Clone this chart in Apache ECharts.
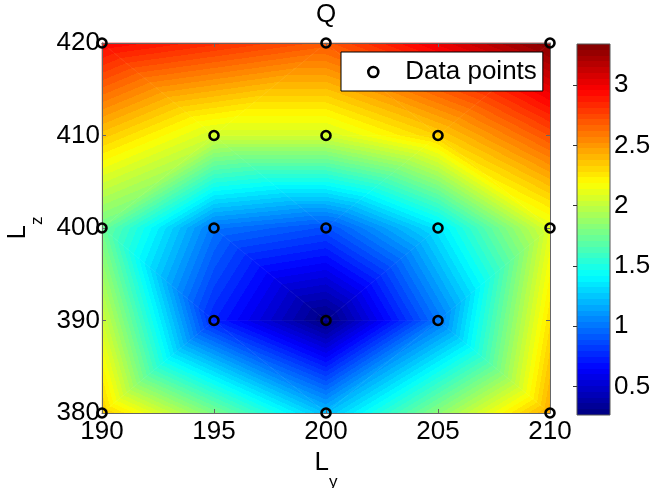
<!DOCTYPE html>
<html>
<head>
<meta charset="utf-8">
<script src="https://cdn.jsdelivr.net/npm/echarts@6/dist/echarts.min.js"></script>
<style>
  html, body { margin: 0; padding: 0; background: #fff; }
  #main { width: 663px; height: 488px; }
</style>
</head>
<body>
<div id="main"></div>
<script>
// measured points: Ly, Lz and the Q value read at each one
var ly = [190, 200, 210, 195, 200, 205, 190, 195, 200, 205, 210, 195, 200, 205, 190, 200, 210];
var lz = [420, 420, 420, 410, 410, 410, 400, 400, 400, 400, 400, 390, 390, 390, 380, 380, 380];
var q  = [2.96, 2.7, 3.34, 2.05, 2.05, 2.33, 1.75, 1.0, 0.88, 1.35, 2.1, 0.75, 0.265, 1.0, 2.35, 1.22, 2.45];
// triangles of the linear interpolation (indices into the arrays above)
var tris = [
  [0, 1, 3], [0, 3, 6], [3, 6, 7], [1, 3, 4], [1, 4, 5], [1, 2, 5], [2, 5, 10], [5, 9, 10],
  [3, 4, 8], [3, 7, 8], [4, 5, 8], [5, 8, 9],
  [6, 7, 11], [6, 11, 14], [7, 11, 12], [7, 8, 12], [8, 9, 12], [9, 12, 13],
  [9, 10, 13], [10, 13, 16], [11, 14, 15], [11, 12, 15], [12, 13, 15], [13, 15, 16]
];
var lyRange = [190, 210];
var lzRange = [380, 420];
var barTicks = [0.5, 1, 1.5, 2, 2.5, 3];

var FONT = '"Liberation Sans", Arial, Helvetica, sans-serif';
var qMin = Math.min.apply(null, q);
var qMax = Math.max.apply(null, q);

// jet colormap, 64 flat steps like matlab
function clamp(v) { return Math.max(0, Math.min(1, v)); }
function jet(f) {
  var r = clamp(1.5 - Math.abs(4 * f - 3));
  var g = clamp(1.5 - Math.abs(4 * f - 2));
  var b = clamp(1.5 - Math.abs(4 * f - 1));
  return 'rgb(' + Math.round(r * 255) + ',' + Math.round(g * 255) + ',' + Math.round(b * 255) + ')';
}
var stops = [];
for (var k = 0; k < 64; k++) {
  var c = jet((k + 0.5) / 64);
  stops.push({ offset: k / 64, color: c });
  stops.push({ offset: (k + 1) / 64, color: c });
}

function renderTri(params, api) {
  var idx = [api.value(0), api.value(1), api.value(2)];
  var pts = idx.map(function (i) { return api.coord([ly[i], lz[i]]); });
  var v = idx.map(function (i) { return q[i]; });
  var d2x = pts[1][0] - pts[0][0], d2y = pts[1][1] - pts[0][1];
  var d3x = pts[2][0] - pts[0][0], d3y = pts[2][1] - pts[0][1];
  var dv2 = v[1] - v[0], dv3 = v[2] - v[0];
  var det = d2x * d3y - d2y * d3x;
  var gx = (dv2 * d3y - d2y * dv3) / det;
  var gy = (d2x * dv3 - dv2 * d3x) / det;
  var gg = gx * gx + gy * gy;
  var fill;
  if (gg < 1e-12) {
    fill = jet((v[0] - qMin) / (qMax - qMin));
  } else {
    var s0 = (qMin - v[0]) / gg, s1 = (qMax - v[0]) / gg;
    fill = new echarts.graphic.LinearGradient(
      pts[0][0] + s0 * gx, pts[0][1] + s0 * gy,
      pts[0][0] + s1 * gx, pts[0][1] + s1 * gy, stops, true);
  }
  return {
    type: 'polygon',
    shape: { points: pts },
    style: { fill: fill, stroke: fill, lineWidth: 0.6 }
  };
}

function renderBar(params, api) {
  var p0 = api.coord([0, qMin]);
  var p1 = api.coord([1, qMax]);
  return {
    type: 'rect',
    shape: { x: p0[0], y: p1[1], width: p1[0] - p0[0], height: p0[1] - p1[1] },
    style: {
      fill: new echarts.graphic.LinearGradient(0, p0[1], 0, p1[1], stops, true),
      stroke: '#555', lineWidth: 1
    }
  };
}

var frame = { show: true, onZero: false, lineStyle: { color: '#666', width: 1 } };
var tick = { show: true, inside: true, length: 4, lineStyle: { color: '#666' } };
var label = { fontFamily: FONT, fontSize: 26, color: '#000' };
var subRich = {
  a: { fontFamily: FONT, fontSize: 26, color: '#000', lineHeight: 30, verticalAlign: 'top' },
  b: { fontFamily: FONT, fontSize: 17, color: '#000', lineHeight: 17, verticalAlign: 'top', padding: [24, 0, 0, 0] }
};

var chart = echarts.init(document.getElementById('main'));
chart.setOption({
  animation: false,
  title: {
    text: 'Q', left: 326, top: 2, textAlign: 'center', padding: 0,
    textStyle: { fontFamily: FONT, fontSize: 26, fontWeight: 'normal', color: '#000' }
  },
  legend: {
    left: 341, top: 52,
    data: ['Data points'],
    backgroundColor: '#fff', borderColor: '#000', borderWidth: 1, borderRadius: 0,
    padding: [7, 6, 6, 26],
    itemWidth: 54, itemHeight: 10,
    itemStyle: { color: 'transparent', borderColor: '#000', borderWidth: 2.6 },
    textStyle: { fontFamily: FONT, fontSize: 26, color: '#000' }
  },
  grid: [
    { left: 102, top: 43, width: 448, height: 370, outerBoundsMode: 'none', containLabel: false },
    { left: 577, top: 44, width: 33, height: 371, outerBoundsMode: 'none', containLabel: false }
  ],
  xAxis: [
    {
      gridIndex: 0, type: 'value', min: lyRange[0], max: lyRange[1], interval: 5,
      position: 'bottom', z: 3, axisLine: frame, axisTick: tick,
      axisLabel: Object.assign({ margin: 6 }, label), splitLine: { show: false },
      name: '{a|L}{b|y}', nameLocation: 'middle', nameGap: 37,
      nameTextStyle: { rich: subRich }
    },
    {
      gridIndex: 0, type: 'value', min: lyRange[0], max: lyRange[1], interval: 5,
      position: 'top', z: 3, axisLine: frame, axisTick: tick,
      axisLabel: { show: false }, splitLine: { show: false }
    },
    { gridIndex: 1, type: 'value', min: 0, max: 1, show: false }
  ],
  yAxis: [
    {
      gridIndex: 0, type: 'value', min: lzRange[0], max: lzRange[1], interval: 10,
      position: 'left', z: 3, axisLine: frame, axisTick: tick,
      axisLabel: Object.assign({ margin: 2 }, label), splitLine: { show: false },
      name: '{a|L}{b|z}', nameLocation: 'middle', nameRotate: 90, nameGap: 50,
      nameTextStyle: { rich: subRich }
    },
    {
      gridIndex: 0, type: 'value', min: lzRange[0], max: lzRange[1], interval: 10,
      position: 'right', z: 3, axisLine: frame, axisTick: tick,
      axisLabel: { show: false }, splitLine: { show: false }
    },
    {
      gridIndex: 1, type: 'value', min: qMin, max: qMax, position: 'right', z: 3,
      axisLine: { show: false },
      axisTick: { show: true, inside: true, length: 4, lineStyle: { color: '#333' }, customValues: barTicks },
      axisLabel: Object.assign({ margin: 4, customValues: barTicks }, label),
      splitLine: { show: false }
    }
  ],
  series: [
    {
      type: 'custom', name: 'field', xAxisIndex: 0, yAxisIndex: 0, z: 1,
      renderItem: renderTri, data: tris, silent: true
    },
    {
      type: 'custom', name: 'colorbar', xAxisIndex: 2, yAxisIndex: 2, z: 1,
      renderItem: renderBar, data: [[0.5, (qMin + qMax) / 2]], silent: true
    },
    {
      type: 'scatter', name: 'Data points', xAxisIndex: 0, yAxisIndex: 0, z: 5,
      clip: false, symbol: 'circle', symbolSize: 9,
      itemStyle: { color: 'transparent', borderColor: '#000', borderWidth: 2.6, opacity: 1 },
      data: ly.map(function (x, i) { return [x, lz[i]]; })
    }
  ]
});
</script>
</body>
</html>
